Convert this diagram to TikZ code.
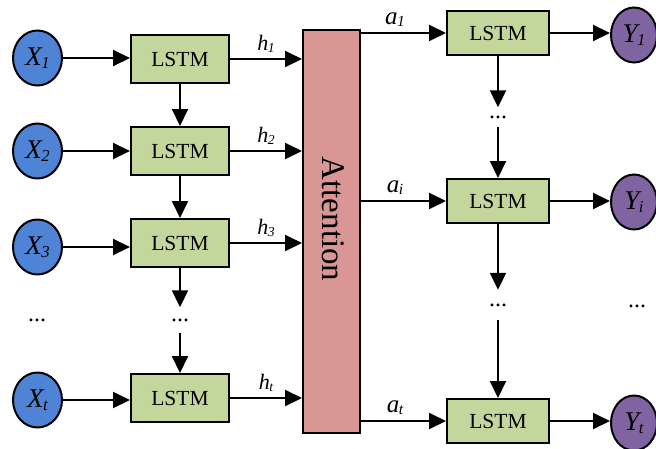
\documentclass[tikz,border=0pt]{standalone}
\usepackage{fontspec}
\setmainfont{Liberation Serif}
\usetikzlibrary{shapes.geometric,arrows.meta}

\definecolor{inblue}{RGB}{79,131,214}
\definecolor{outpurple}{RGB}{128,100,162}
\definecolor{cellgreen}{RGB}{195,214,155}
\definecolor{attpink}{RGB}{217,150,148}

% italic symbol with a small italic index
\newcommand{\idx}[2]{\itshape #1\kern-0.5pt\raisebox{-0.2ex}{\scalebox{0.62}{#2}}}

\tikzset{
  inode/.style={ellipse, draw=black, line width=2pt, fill=inblue,
    minimum width=49pt, minimum height=55pt, inner sep=0pt,
    font=\fontsize{27}{27}\selectfont},
  onode/.style={ellipse, draw=black, line width=2pt, fill=outpurple,
    minimum width=46pt, minimum height=55pt, inner sep=0pt,
    font=\fontsize{27}{27}\selectfont},
  cell/.style={rectangle, draw=black, line width=2pt, fill=cellgreen,
    minimum width=98pt, minimum height=48pt, inner sep=0pt,
    font=\fontsize{21.5}{21.5}\selectfont},
  rcell/.style={cell, minimum width=102pt, minimum height=44pt},
  dots/.style={inner sep=0pt, font=\fontsize{24}{24}\selectfont},
  flow/.style={line width=2pt, -{Triangle[length=17pt,width=16pt]}},
  hlab/.style={font=\fontsize{22}{22}\selectfont},
  alab/.style={font=\fontsize{25}{25}\selectfont},
}

\begin{document}
\begin{tikzpicture}[x=1pt,y=-1pt]
\useasboundingbox (0,0) rectangle (656,448);

% encoder inputs and cells
\node[inode] (x1) at (37.5,58) {\idx{X}{1}};
\node[inode] (x2) at (37.5,151) {\idx{X}{2}};
\node[inode] (x3) at (37.5,247) {\idx{X}{3}};
\node[inode] (xt) at (37.5,400) {\idx{X}{t}};
\node[dots] (xd) at (37,320) {...};

\node[cell] (l1) at (180,59) {LSTM};
\node[cell] (l2) at (180,151) {LSTM};
\node[cell] (l3) at (180,243) {LSTM};
\node[cell] (lt) at (180,398) {LSTM};
\node[dots, minimum height=25pt] (ld) at (180,320) {...};

% attention block
\node[rectangle, draw=black, line width=2pt, fill=attpink,
  minimum width=57pt, minimum height=403pt, inner sep=0pt] (att) at (331.5,231.5) {};
\node[rotate=-90, font=\fontsize{33}{33}\selectfont] (attlab) at (333,219) {Attention};

% decoder cells and outputs
\node[rcell] (r1) at (498,33) {LSTM};
\node[rcell] (ri) at (498,201) {LSTM};
\node[rcell] (rt) at (498,421) {LSTM};
\node[dots, minimum height=19pt] (rd1) at (498,117) {...};
\node[dots, minimum height=30pt] (rd2) at (498,305) {...};

\node[onode] (y1) at (634,35) {\idx{Y}{1}};
\node[onode] (yi) at (634,202) {\idx{Y}{i}};
\node[onode] (yt) at (634,423) {\idx{Y}{t}};
\node[dots] (yd) at (637,306) {...};

% inputs into encoder cells
\draw[flow] (x1) -- (l1.west |- x1);
\draw[flow] (x2) -- (l2.west |- x2);
\draw[flow] (x3) -- (l3.west |- x3);
\draw[flow] (xt) -- (lt.west |- xt);

% encoder recurrence
\draw[flow] (l1.south) -- (l2.north);
\draw[flow] (l2.south) -- (l3.north);
\draw[flow] (l3.south) -- (ld.north);
\draw[flow] (ld.south) -- (lt.north);

% hidden states into attention
\draw[flow] (l1.east) -- (att.west |- l1.east) node[midway, above=2pt, hlab] (h1) {\idx{h}{1}};
\draw[flow] (l2.east) -- (att.west |- l2.east) node[midway, above=2pt, hlab] (h2) {\idx{h}{2}};
\draw[flow] (l3.east) -- (att.west |- l3.east) node[midway, above=2pt, hlab] (h3) {\idx{h}{3}};
\draw[flow] (lt.east) -- (att.west |- lt.east) node[midway, above=2pt, hlab] (ht) {\idx{h}{t}};

% context vectors into decoder cells
\draw[flow] (att.east |- r1) -- (r1.west) node[pos=0.4, above=2pt, alab] (a1) {\idx{a}{1}};
\draw[flow] (att.east |- ri) -- (ri.west) node[pos=0.4, above=2pt, alab] (ai) {\idx{a}{i}};
\draw[flow] (att.east |- rt) -- (rt.west) node[pos=0.4, above=2pt, alab] (at) {\idx{a}{t}};

% decoder recurrence
\draw[flow] (r1.south) -- (rd1.north);
\draw[flow] (rd1.south) -- (ri.north);
\draw[flow] (ri.south) -- (rd2.north);
\draw[flow] (rd2.south) -- (rt.north);

% outputs
\draw[flow] (r1.east) -- (y1.west |- r1.east);
\draw[flow] (ri.east) -- (yi.west |- ri.east);
\draw[flow] (rt.east) -- (yt.west |- rt.east);
\end{tikzpicture}
\end{document}
